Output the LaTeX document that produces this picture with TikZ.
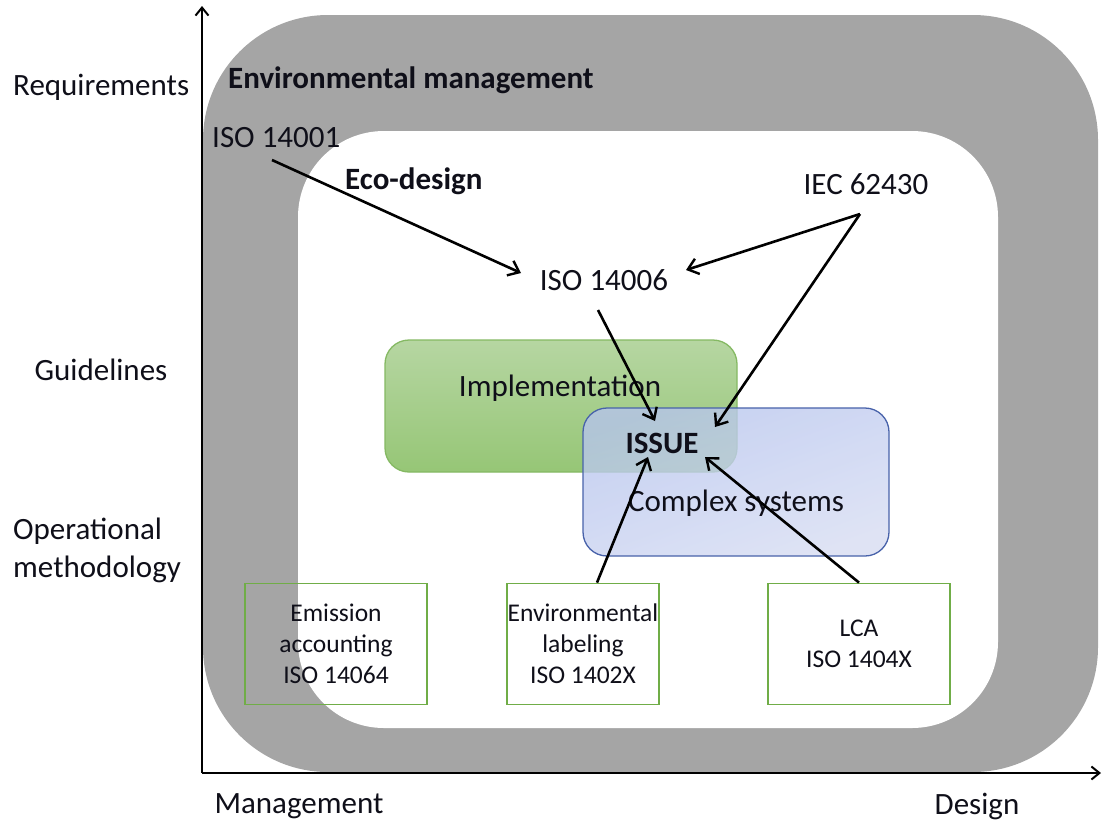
\documentclass[tikz,border=0pt]{standalone}
\usepackage{fontspec}
\setmainfont{Carlito}
\usetikzlibrary{arrows.meta}

\definecolor{ringgray}{RGB}{165,165,165}
\definecolor{boxgreen}{RGB}{112,173,71}
\definecolor{greentop}{RGB}{182,214,162}
\definecolor{greenbot}{RGB}{150,198,118}
\definecolor{bluetop}{RGB}{182,196,238}
\definecolor{bluebot}{RGB}{214,220,242}
\definecolor{blueedge}{RGB}{72,98,170}
\definecolor{inktext}{RGB}{15,15,25}

\tikzset{
  lbl/.style={font=\fontsize{31}{38}\selectfont, text=inktext, inner sep=0pt},
  lblb/.style={lbl, font=\fontsize{31}{38}\selectfont\bfseries},
  stdbox/.style={draw=boxgreen, line width=1.8pt, minimum width=182pt, minimum height=121pt,
     align=center, font=\fontsize{25.5}{31}\selectfont, text=inktext, inner sep=0pt},
  link/.style={line width=2.6pt, -{Straight Barb[length=10pt,width=16pt,line width=2.4pt]}},
  axis/.style={line width=2.6pt, -{Straight Barb[length=8pt,width=13pt,line width=2pt]}}
}

\begin{document}
\begin{tikzpicture}[x=1pt,y=-1pt]
\useasboundingbox (0,0) rectangle (1103,823);

% outer ring: environmental management
\fill[ringgray, rounded corners=125pt] (203,15) rectangle (1098,772);
% inner area: eco-design
\fill[white, rounded corners=86pt] (298,131) rectangle (998,728);

% axes
\coordinate (origin) at (202,773);
\coordinate (ytop) at (202,6);
\coordinate (xend) at (1101,773);
\draw[axis] (origin) -- (ytop);
\draw[axis] (origin) -- (xend);

% axis labels
\node[lbl, anchor=west] (req) at (13,87) {Requirements};
\node[lbl] (guide) at (101,370) {Guidelines};
\node[lbl, anchor=west, align=left] (oper) at (13,550) {Operational\\methodology};
\node[lbl] (mgmt) at (299,806) {Management};
\node[lbl] (design) at (977,806) {Design};

% titles and standards
\node[lblb, anchor=west] (envm) at (228,80) {Environmental management};
\node[lbl, anchor=west] (iso14001) at (212,138) {ISO 14001};
\node[lblb, anchor=west] (eco) at (345,181) {Eco-design};
\node[lbl] (iec) at (866,184) {IEC 62430};
\node[lbl] (iso14006) at (604,280) {ISO 14006};

% overlapping areas
\shade[top color=greentop, bottom color=greenbot, rounded corners=24pt]
  (385,340) rectangle (737,472);
\draw[boxgreen!85!white, line width=1.3pt, rounded corners=24pt]
  (385,340) rectangle (737,472);
\node[lbl] (impl) at (560,388) {Implementation};

\shade[top color=bluetop, bottom color=bluebot, shading angle=20, fill opacity=0.78, rounded corners=24pt]
  (583,408) rectangle (889,556);
\draw[blueedge, line width=1.3pt, rounded corners=24pt]
  (583,408) rectangle (889,556);
\node[lblb] (issue) at (662,443) {ISSUE};
\node[lbl] (cplx) at (736,503) {Complex systems};

% operational boxes
\node[stdbox] (emis) at (336,644) {Emission\\accounting\\ISO 14064};
\node[stdbox, minimum width=152pt] (label) at (583,644) {Environmental\\labeling\\ISO 1402X};
\node[stdbox] (lca) at (859,644) {LCA\\ISO 1404X};

% connector ends
\coordinate (iso1out) at (272,160);
\coordinate (iso6in) at (521,273);
\coordinate (iso6inr) at (686,270);
\coordinate (iso6out) at (598,310);
\coordinate (iecout) at (860,214);
\coordinate (issueA) at (655,421);
\coordinate (issueB) at (715,427);
\coordinate (issueC) at (648,457);
\coordinate (issueD) at (705,457);

\draw[link] (iso1out) -- (iso6in);
\draw[link] (iecout) -- (iso6inr);
\draw[link] (iecout) -- (issueB);
\draw[link] (iso6out) -- (issueA);
\draw[link] (label.north -| 597,0) -- (issueC);
\draw[link] (lca.north) -- (issueD);
\end{tikzpicture}
\end{document}
